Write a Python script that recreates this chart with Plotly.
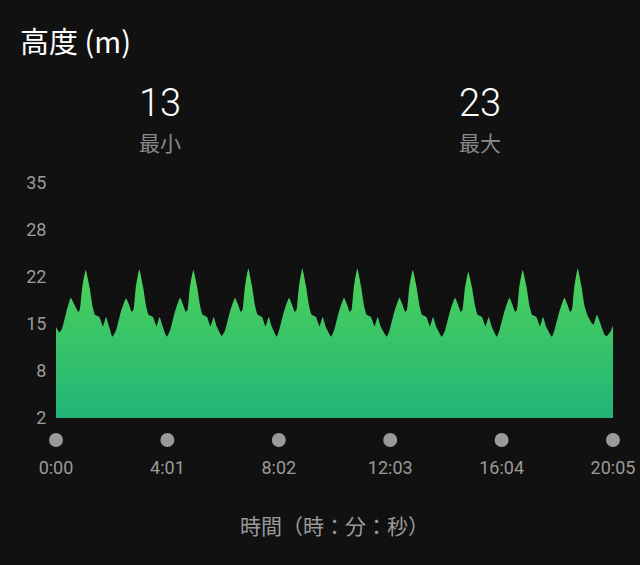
import plotly.graph_objects as go

# ---- data ----
time_s = [
    0.0, 7.1, 13.5, 24.0, 32.0, 40.0, 48.0, 51.5, 56.7, 64.3, 72.3, 78.8, 84.4, 93.7, 101.5, 108.2, 115.1, 121.8,
    129.4, 140.2, 151.4, 157.5, 163.8, 167.7, 172.6, 180.2, 188.2, 194.7, 200.3, 209.6, 217.4, 224.1, 231.0, 239.5,
    246.3, 257.1, 268.3, 274.4, 280.7, 284.6, 289.5, 297.1, 305.1, 311.6, 317.2, 326.5, 334.3, 341.0, 347.9, 358.5,
    365.3, 376.1, 387.3, 393.4, 399.7, 403.6, 408.5, 416.1, 424.1, 430.6, 436.2, 445.5, 453.3, 460.0, 466.9, 477.5,
    482.1, 492.9, 504.1, 510.2, 516.5, 520.4, 525.3, 532.9, 540.9, 547.4, 553.0, 562.3, 570.1, 576.8, 583.7, 595.0,
    601.1, 611.9, 623.1, 629.2, 635.5, 639.4, 644.3, 651.9, 659.9, 666.4, 672.0, 681.3, 689.1, 695.8, 702.7, 715.5,
    721.0, 731.8, 743.0, 749.1, 755.4, 759.3, 764.2, 771.8, 779.8, 786.3, 791.9, 801.2, 809.0, 815.7, 822.6, 834.5,
    841.2, 852.0, 863.2, 869.3, 875.6, 879.5, 884.4, 892.0, 900.0, 906.5, 912.1, 921.4, 929.2, 935.9, 942.8, 953.5,
    958.9, 969.7, 980.9, 987.0, 993.3, 997.2, 1002.1, 1009.7, 1017.7, 1024.2, 1029.8, 1039.1, 1046.9, 1053.6, 1060.5, 1072.5,
    1077.9, 1088.7, 1099.9, 1106.0, 1112.3, 1116.2, 1121.1, 1128.7, 1136.7, 1143.2, 1150.0, 1159.3, 1163.0, 1170.2, 1186.8, 1191.8, 1199.2, 1205.0,
]
altitude_m = [
    14.8, 14.0, 14.6, 17.3, 18.9, 17.9, 16.9, 17.2, 20.3, 22.8, 20.5, 17.8, 16.5, 16.2, 14.9, 16.2, 14.8, 13.4,
    14.2, 16.9, 18.8, 18.0, 16.9, 17.2, 20.3, 22.9, 20.5, 17.8, 16.5, 16.2, 14.9, 16.2, 14.8, 13.4,
    14.2, 16.9, 18.9, 18.0, 16.9, 17.2, 20.3, 22.8, 20.5, 17.8, 16.5, 16.2, 14.9, 16.2, 14.8, 13.5,
    14.2, 16.9, 18.9, 18.0, 16.9, 17.2, 20.3, 23.0, 20.5, 17.8, 16.5, 16.2, 14.9, 16.2, 14.8, 13.4,
    14.2, 16.9, 18.9, 18.0, 16.9, 17.2, 20.3, 23.0, 20.5, 17.8, 16.5, 16.2, 14.9, 16.2, 14.8, 13.4,
    14.2, 16.9, 18.9, 18.0, 16.9, 17.2, 20.3, 23.0, 20.5, 17.8, 16.5, 16.2, 14.9, 16.2, 14.8, 13.4,
    14.2, 16.9, 18.9, 18.0, 16.9, 17.2, 20.3, 22.8, 20.5, 17.8, 16.5, 16.2, 14.9, 16.2, 14.8, 13.4,
    14.2, 16.9, 18.9, 18.0, 16.9, 17.2, 20.1, 22.5, 20.3, 17.8, 16.5, 16.2, 14.9, 16.2, 14.8, 13.4,
    14.2, 16.9, 18.9, 18.0, 16.9, 17.2, 20.3, 22.8, 20.5, 17.8, 16.5, 16.2, 14.9, 16.2, 14.8, 13.4,
    14.2, 16.9, 18.9, 18.0, 16.9, 17.2, 20.3, 23.0, 20.5, 17.8, 16.4, 15.3, 15.1, 16.5, 13.7, 13.5, 14.1, 15.0,
]
x_tick_vals = [0, 241, 482, 723, 964, 1205]
x_tick_text = ["0:00", "4:01", "8:02", "12:03", "16:04", "20:05"]
y_tick_vals = [2, 8.6, 15.2, 21.8, 28.4, 35]
y_tick_text = ["2", "8", "15", "22", "28", "35"]
stat_values = ["13", "23"]
stat_labels = ["最小", "最大"]

BG = "#111111"
GRAY = "#9a9a9a"
X_MAX = 1205
Y_MIN, Y_MAX = 2, 35
W, H = 640, 565
ML, MR, MT, MB = 56, 27, 183, 147

fig = go.Figure()
fig.add_trace(go.Scatter(
    x=time_s, y=altitude_m, mode="lines",
    line=dict(width=0, shape="spline", smoothing=0.4, color="#44c95c"),
    fill="tozeroy",
    fillgradient=dict(type="vertical", start=Y_MIN, stop=23,
                      colorscale=[[0, "#22b478"], [1, "#4cd25a"]]),
    hoverinfo="skip", showlegend=False,
))

# grey dots at every x tick, below the plot area
for tv in x_tick_vals:
    fig.add_shape(type="circle", xref="paper", yref="paper",
                  xsizemode="pixel", ysizemode="pixel",
                  xanchor=tv / X_MAX, yanchor=0,
                  x0=-7, x1=7, y0=-29, y1=-15,
                  fillcolor=GRAY, line=dict(width=0), layer="above")

fig.update_layout(
    width=W, height=H,
    paper_bgcolor=BG, plot_bgcolor=BG,
    margin=dict(l=ML, r=MR, t=MT, b=MB),
    font=dict(family="Roboto, 'Noto Sans CJK JP'", color=GRAY),
    xaxis=dict(range=[0, X_MAX], tickvals=x_tick_vals, ticktext=x_tick_text,
               showgrid=False, zeroline=False, showline=False, automargin=False,
               ticks="outside", ticklen=33, tickcolor=BG,
               tickfont=dict(size=18, color=GRAY, family="Roboto"),
               title=dict(text="時間（時：分：秒）", standoff=42,
                          font=dict(size=21, color=GRAY, family="Noto Sans CJK JP"))),
    yaxis=dict(range=[Y_MIN, Y_MAX], tickvals=y_tick_vals, ticktext=y_tick_text,
               showgrid=False, zeroline=False, showline=False, automargin=False,
               ticks="outside", ticklen=5, tickcolor=BG,
               tickfont=dict(size=18, color=GRAY, family="Roboto")),
)


def px(xp, yp):
    return (xp - ML) / (W - ML - MR), (H - MB - yp) / (H - MT - MB)


tx, ty = px(18, 40)
fig.add_annotation(x=tx, y=ty, xref="paper", yref="paper", xanchor="left", yanchor="middle",
                   showarrow=False, text="高度 (m)",
                   font=dict(size=29, color="#ffffff", family="Noto Sans CJK JP"))
for cx, val, lab in zip([160, 480], stat_values, stat_labels):
    vx, vy = px(cx, 103)
    fig.add_annotation(x=vx, y=vy, xref="paper", yref="paper", xanchor="center", yanchor="middle",
                       showarrow=False, text=val,
                       font=dict(size=38, color="#ffffff", family="Roboto", weight=300))
    lx, ly = px(cx, 142)
    fig.add_annotation(x=lx, y=ly, xref="paper", yref="paper", xanchor="center", yanchor="middle",
                       showarrow=False, text=lab,
                       font=dict(size=21, color="#8a8a8a", family="Noto Sans CJK JP"))

fig.write_html("out.html", config={"displayModeBar": False},
               post_script="document.body.style.margin='0';document.body.style.background='#111111';")
